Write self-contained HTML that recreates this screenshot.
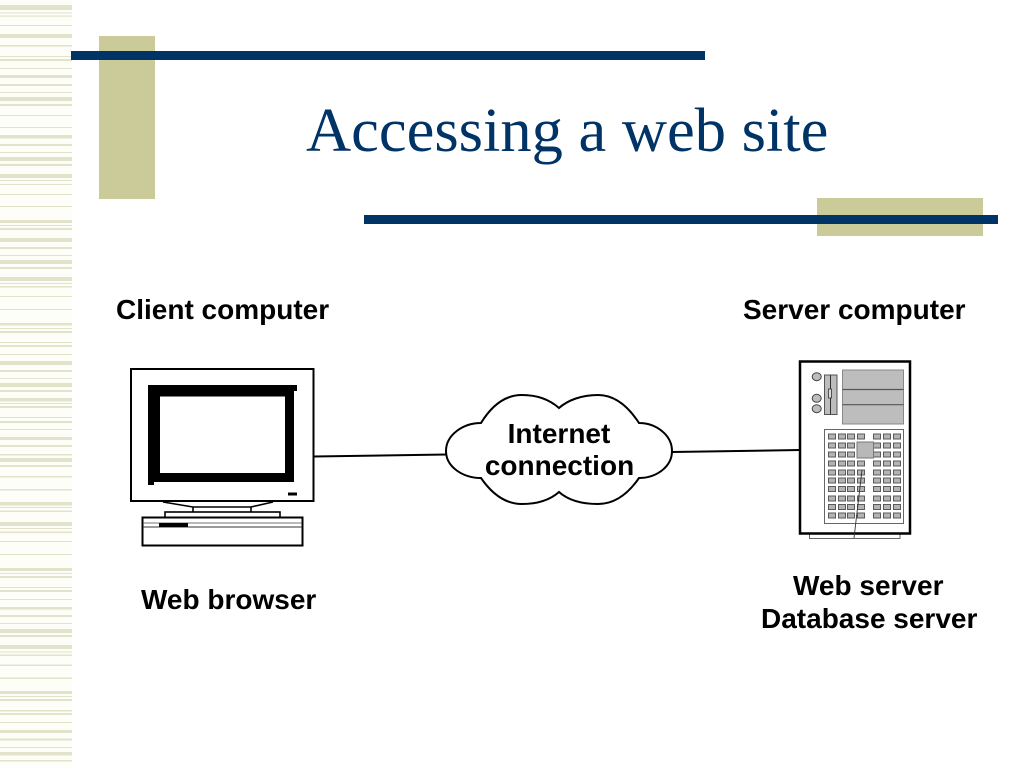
<!DOCTYPE html>
<html>
<head>
<meta charset="utf-8">
<style>
html,body{margin:0;padding:0;background:#fff;width:1024px;height:768px;overflow:hidden}
svg{display:block}
.l{font-family:"Liberation Sans",Arial,sans-serif;font-weight:bold;font-size:28px;fill:#000}
.t{font-family:"Liberation Serif","Times New Roman",serif;font-size:62.5px;fill:#003366}
.s rect{fill:#e3e3cc}
.g rect{fill:#b4b4b4;stroke:#5a5a5a;stroke-width:1}
</style>
</head>
<body>
<svg width="1024" height="768" viewBox="0 0 1024 768" xmlns="http://www.w3.org/2000/svg">
<rect x="0" y="0" width="72" height="768" fill="#fefef8"/>
<g class="s">
<rect x="0" y="5" width="72" height="5"/><rect x="0" y="12.5" width="72" height="1"/><rect x="0" y="15.5" width="72" height="1.2"/><rect x="0" y="25" width="72" height="1"/><rect x="0" y="34" width="72" height="4"/><rect x="0" y="45" width="72" height="1.6"/><rect x="0" y="56" width="72" height="1"/><rect x="0" y="59" width="72" height="2"/><rect x="0" y="68" width="72" height="1"/><rect x="0" y="75" width="72" height="3"/><rect x="0" y="84" width="72" height="2"/><rect x="0" y="92" width="72" height="1"/><rect x="0" y="97" width="72" height="4"/><rect x="0" y="104" width="72" height="2"/><rect x="0" y="115" width="72" height="1"/><rect x="0" y="127" width="72" height="1"/><rect x="0" y="135" width="72" height="3.5"/><rect x="0" y="144" width="72" height="2"/><rect x="0" y="152" width="72" height="1"/><rect x="0" y="157" width="72" height="4"/><rect x="0" y="164" width="72" height="2"/><rect x="0" y="174" width="72" height="4"/><rect x="0" y="180" width="72" height="1"/><rect x="0" y="184" width="72" height="1"/><rect x="0" y="194" width="72" height="1"/><rect x="0" y="206" width="72" height="1"/><rect x="0" y="220" width="72" height="3"/><rect x="0" y="225" width="72" height="1"/><rect x="0" y="228" width="72" height="2"/><rect x="0" y="238" width="72" height="4"/><rect x="0" y="247" width="72" height="2"/><rect x="0" y="255" width="72" height="1"/><rect x="0" y="260" width="72" height="4"/><rect x="0" y="267" width="72" height="2"/><rect x="0" y="277" width="72" height="4"/><rect x="0" y="283" width="72" height="1"/><rect x="0" y="286" width="72" height="1.5"/><rect x="0" y="296" width="72" height="1"/><rect x="0" y="309" width="72" height="1"/><rect x="0" y="323" width="72" height="2.5"/><rect x="0" y="328" width="72" height="1"/><rect x="0" y="331" width="72" height="2"/><rect x="0" y="342" width="72" height="1"/><rect x="0" y="345" width="72" height="2"/><rect x="0" y="354" width="72" height="1"/><rect x="0" y="361" width="72" height="4"/><rect x="0" y="370" width="72" height="2"/><rect x="0" y="378" width="72" height="1"/><rect x="0" y="383" width="72" height="4"/><rect x="0" y="390" width="72" height="2"/><rect x="0" y="398" width="72" height="3.5"/><rect x="0" y="403" width="72" height="1"/><rect x="0" y="406" width="72" height="2"/><rect x="0" y="417" width="72" height="1"/><rect x="0" y="421" width="72" height="2"/><rect x="0" y="429" width="72" height="1"/><rect x="0" y="437" width="72" height="3"/><rect x="0" y="445" width="72" height="2"/><rect x="0" y="454" width="72" height="1.5"/><rect x="0" y="458" width="72" height="4"/><rect x="0" y="465" width="72" height="2"/><rect x="0" y="476" width="72" height="1.5"/><rect x="0" y="489" width="72" height="1.5"/><rect x="0" y="502" width="72" height="3.5"/><rect x="0" y="507" width="72" height="1"/><rect x="0" y="510.5" width="72" height="1.5"/><rect x="0" y="522" width="72" height="4"/><rect x="0" y="528" width="72" height="1"/><rect x="0" y="531.5" width="72" height="1.5"/><rect x="0" y="541" width="72" height="1"/><rect x="0" y="554" width="72" height="1"/><rect x="0" y="568" width="72" height="3"/><rect x="0" y="573" width="72" height="1"/><rect x="0" y="576" width="72" height="2"/><rect x="0" y="587" width="72" height="1"/><rect x="0" y="590" width="72" height="2"/><rect x="0" y="599" width="72" height="1"/><rect x="0" y="607" width="72" height="2.5"/><rect x="0" y="615" width="72" height="2"/><rect x="0" y="623" width="72" height="1"/><rect x="0" y="629" width="72" height="4"/><rect x="0" y="635" width="72" height="2"/><rect x="0" y="645" width="72" height="4"/><rect x="0" y="651.5" width="72" height="1"/><rect x="0" y="654.5" width="72" height="1.5"/><rect x="0" y="664.5" width="72" height="1.5"/><rect x="0" y="677.5" width="72" height="1.5"/><rect x="0" y="691" width="72" height="3"/><rect x="0" y="696" width="72" height="1"/><rect x="0" y="699" width="72" height="2"/><rect x="0" y="710" width="72" height="1.5"/><rect x="0" y="713" width="72" height="2"/><rect x="0" y="722" width="72" height="1"/><rect x="0" y="730" width="72" height="3"/><rect x="0" y="738.5" width="72" height="2"/><rect x="0" y="747" width="72" height="1"/><rect x="0" y="752" width="72" height="3.5"/><rect x="0" y="760" width="72" height="1.5"/>
</g>

<rect x="99" y="36" width="56" height="163" fill="#cbcb9a"/>
<rect x="817" y="198" width="166" height="38" fill="#cbcb9a"/>
<rect x="71" y="51" width="634" height="9" fill="#003366"/>
<rect x="364" y="215" width="634" height="9" fill="#003366"/>

<text class="t" x="306" y="151">Accessing a web site</text>

<text class="l" x="116" y="319">Client computer</text>
<text class="l" x="743" y="319">Server computer</text>
<text class="l" x="141" y="609">Web browser</text>
<text class="l" x="793" y="595">Web server</text>
<text class="l" x="761" y="628">Database server</text>

<!-- connectors -->
<line x1="314" y1="456.5" x2="447" y2="454.5" stroke="#000" stroke-width="2"/>
<line x1="672" y1="452" x2="800" y2="450" stroke="#000" stroke-width="2"/>

<!-- monitor -->
<rect x="131" y="369" width="182.5" height="132" fill="#fff" stroke="#000" stroke-width="2"/>
<path d="M148 385H297V391H294V482H154V485H148Z" fill="#000"/>
<rect x="160" y="396.5" width="125" height="76.5" fill="#fff"/>
<rect x="288" y="492.5" width="9" height="3" fill="#000"/>
<path d="M163 502L193 507V512M273 502L251 507V512M193 507H251" fill="#fff" stroke="#000" stroke-width="1.6"/>
<rect x="165" y="512" width="115" height="5.5" fill="#fff" stroke="#000" stroke-width="1.6"/>
<rect x="142.5" y="517.5" width="160" height="28" fill="#fff" stroke="#000" stroke-width="2"/>
<line x1="143" y1="523" x2="302" y2="523" stroke="#444" stroke-width="0.8"/>
<line x1="143" y1="527" x2="302" y2="527" stroke="#333" stroke-width="1"/>
<rect x="159" y="523" width="29" height="4" fill="#000"/>

<!-- cloud -->
<path d="M481 423C492 405 505 395 522 395C538 395 550 400 559 408C568 400 582 395 598 395C615 395 628 406 639 423C656 423 672 435 672 451C672 467 656 478 639 478C628 494 615 504 598 504C582 504 568 500 559 492C550 500 538 504 522 504C505 504 492 494 481 478C463 478 446 467 446 451C446 435 463 423 481 423Z" fill="#fff" stroke="#000" stroke-width="2"/>
<text class="l" x="559" y="443" text-anchor="middle">Internet</text>
<text class="l" x="559.5" y="475" text-anchor="middle">connection</text>

<!-- server -->
<rect x="809.5" y="533" width="90.5" height="5.5" fill="#fff" stroke="#666" stroke-width="1"/>
<rect x="800" y="361.5" width="110" height="172" fill="#fff" stroke="#000" stroke-width="2.5"/>
<g fill="#bdbdbd" stroke="#444" stroke-width="1">
<ellipse cx="816.7" cy="376.7" rx="4.5" ry="4"/>
<ellipse cx="816.7" cy="398.3" rx="4.5" ry="4"/>
<ellipse cx="816.7" cy="408.7" rx="4.5" ry="4"/>
</g>
<rect x="824.5" y="375" width="12.5" height="39.5" fill="#bdbdbd" stroke="#555" stroke-width="1"/>
<line x1="830.5" y1="375" x2="830.5" y2="414.5" stroke="#333" stroke-width="1"/>
<rect x="828.5" y="389" width="3" height="9" fill="#ddd" stroke="#333" stroke-width="0.8"/>
<rect x="842.5" y="370" width="61" height="54" fill="#bdbdbd" stroke="#888" stroke-width="1"/>
<line x1="842.5" y1="389.5" x2="903.5" y2="389.5" stroke="#555" stroke-width="1.2"/>
<line x1="842.5" y1="404.7" x2="903.5" y2="404.7" stroke="#555" stroke-width="1.2"/>
<rect x="824.5" y="429.5" width="79" height="94" fill="#fff" stroke="#666" stroke-width="1"/>
<g class="g">
<rect x="828.5" y="434" width="7" height="5"/><rect x="838.5" y="434" width="7" height="5"/><rect x="847.5" y="434" width="7" height="5"/><rect x="857.5" y="434" width="7" height="5"/><rect x="873.5" y="434" width="7" height="5"/><rect x="883.5" y="434" width="7" height="5"/><rect x="893.5" y="434" width="7" height="5"/>
<rect x="828.5" y="443" width="7" height="5"/><rect x="838.5" y="443" width="7" height="5"/><rect x="847.5" y="443" width="7" height="5"/><rect x="873.5" y="443" width="7" height="5"/><rect x="883.5" y="443" width="7" height="5"/><rect x="893.5" y="443" width="7" height="5"/>
<rect x="828.5" y="452" width="7" height="5"/><rect x="838.5" y="452" width="7" height="5"/><rect x="847.5" y="452" width="7" height="5"/><rect x="873.5" y="452" width="7" height="5"/><rect x="883.5" y="452" width="7" height="5"/><rect x="893.5" y="452" width="7" height="5"/>
<rect x="828.5" y="461" width="7" height="5"/><rect x="838.5" y="461" width="7" height="5"/><rect x="847.5" y="461" width="7" height="5"/><rect x="857.5" y="461" width="7" height="5"/><rect x="873.5" y="461" width="7" height="5"/><rect x="883.5" y="461" width="7" height="5"/><rect x="893.5" y="461" width="7" height="5"/>
<rect x="828.5" y="470" width="7" height="5"/><rect x="838.5" y="470" width="7" height="5"/><rect x="847.5" y="470" width="7" height="5"/><rect x="857.5" y="470" width="7" height="5"/><rect x="873.5" y="470" width="7" height="5"/><rect x="883.5" y="470" width="7" height="5"/><rect x="893.5" y="470" width="7" height="5"/>
<rect x="828.5" y="478" width="7" height="5"/><rect x="838.5" y="478" width="7" height="5"/><rect x="847.5" y="478" width="7" height="5"/><rect x="857.5" y="478" width="7" height="5"/><rect x="873.5" y="478" width="7" height="5"/><rect x="883.5" y="478" width="7" height="5"/><rect x="893.5" y="478" width="7" height="5"/>
<rect x="828.5" y="486.5" width="7" height="5"/><rect x="838.5" y="486.5" width="7" height="5"/><rect x="847.5" y="486.5" width="7" height="5"/><rect x="857.5" y="486.5" width="7" height="5"/><rect x="873.5" y="486.5" width="7" height="5"/><rect x="883.5" y="486.5" width="7" height="5"/><rect x="893.5" y="486.5" width="7" height="5"/>
<rect x="828.5" y="496" width="7" height="5"/><rect x="838.5" y="496" width="7" height="5"/><rect x="847.5" y="496" width="7" height="5"/><rect x="857.5" y="496" width="7" height="5"/><rect x="873.5" y="496" width="7" height="5"/><rect x="883.5" y="496" width="7" height="5"/><rect x="893.5" y="496" width="7" height="5"/>
<rect x="828.5" y="504.5" width="7" height="5"/><rect x="838.5" y="504.5" width="7" height="5"/><rect x="847.5" y="504.5" width="7" height="5"/><rect x="857.5" y="504.5" width="7" height="5"/><rect x="873.5" y="504.5" width="7" height="5"/><rect x="883.5" y="504.5" width="7" height="5"/><rect x="893.5" y="504.5" width="7" height="5"/>
<rect x="828.5" y="513" width="7" height="5"/><rect x="838.5" y="513" width="7" height="5"/><rect x="847.5" y="513" width="7" height="5"/><rect x="857.5" y="513" width="7" height="5"/><rect x="873.5" y="513" width="7" height="5"/><rect x="883.5" y="513" width="7" height="5"/><rect x="893.5" y="513" width="7" height="5"/>
</g>
<rect x="857" y="442" width="16.5" height="16" fill="#b8b8b8" stroke="#777" stroke-width="1"/>
<line x1="862" y1="470" x2="854" y2="538" stroke="#333" stroke-width="0.9"/>
</svg>
</body>
</html>
